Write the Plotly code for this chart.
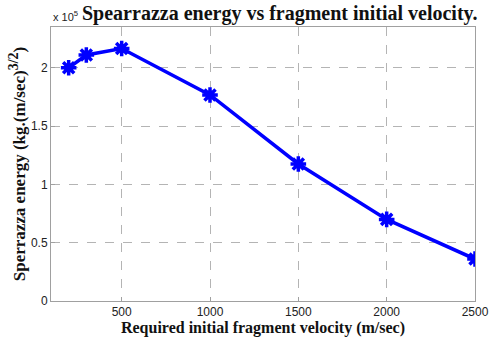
import plotly.graph_objects as go

# Fragment initial velocity (m/sec) and Sperrazza energy in units of 1e5 kg.(m/sec)^(3/2)
velocity = [200, 300, 500, 1000, 1500, 2000, 2500]
energy_e5 = [2.00, 2.11, 2.165, 1.767, 1.175, 0.70, 0.36]

x_ticks = [500, 1000, 1500, 2000, 2500]
y_ticks = [0, 0.5, 1, 1.5, 2]
y_tick_text = ["0", "0.5", "1", "1.5", "2"]

serif = "Liberation Serif, Times New Roman, serif"
sans = "Liberation Sans, Arial, sans-serif"

fig = go.Figure()
# Thick blue line
fig.add_trace(go.Scatter(
    x=velocity, y=energy_e5, mode="lines",
    line=dict(color="#0000ff", width=3.5),
    showlegend=False,
))
# Bold asterisk markers: a small disc with spokes around it
fig.add_trace(go.Scatter(
    x=velocity, y=energy_e5, mode="markers",
    marker=dict(symbol="circle", size=9, color="#0000ff"),
    showlegend=False, hoverinfo="skip",
))
fig.add_trace(go.Scatter(
    x=velocity, y=energy_e5, mode="markers",
    marker=dict(symbol="asterisk-open", size=13, color="#0000ff",
                line=dict(color="#0000ff", width=3.5)),
    showlegend=False,
))

axis_common = dict(
    showline=True, linecolor="#a0a0a0", linewidth=1, mirror=True,
    showgrid=True, gridcolor="#b4b4b4", griddash="dash", gridwidth=1,
    zeroline=False, ticks="inside", ticklen=4, tickcolor="#a0a0a0",
    tickfont=dict(family=sans, size=12, color="#222222"),
    automargin=False,
)

fig.update_layout(
    width=493, height=341,
    margin=dict(l=51, r=18, t=27, b=40),
    paper_bgcolor="white", plot_bgcolor="white",
    xaxis=dict(range=[100, 2500], tickvals=x_ticks,
               title=dict(text="<b>Required initial fragment velocity (m/sec)</b>",
                          font=dict(family=serif, size=16, color="#111111"),
                          standoff=0),
               **axis_common),
    yaxis=dict(range=[0, 2.35], tickvals=y_ticks, ticktext=y_tick_text,
               title=dict(text="<b>Sperrazza energy (kg.(m/sec)<sup><span style='font-size:14px'>3/2</span></sup>)</b>",
                          font=dict(family=serif, size=17, color="#111111"),
                          standoff=0),
               **axis_common),
    annotations=[
        dict(text="<b>Spearrazza energy vs fragment initial velocity.</b>",
             x=0.54, xref="paper", xanchor="center", y=1.0, yref="paper",
             yanchor="bottom", yshift=0,
             showarrow=False, font=dict(family=serif, size=20, color="#111111")),
        dict(text="x 10<sup>5</sup>", x=0, xref="paper", xanchor="left",
             y=1.0, yref="paper", yanchor="bottom", yshift=2,
             showarrow=False, font=dict(family=sans, size=11, color="#222222")),
    ],
)

fig.write_html("out.html")
